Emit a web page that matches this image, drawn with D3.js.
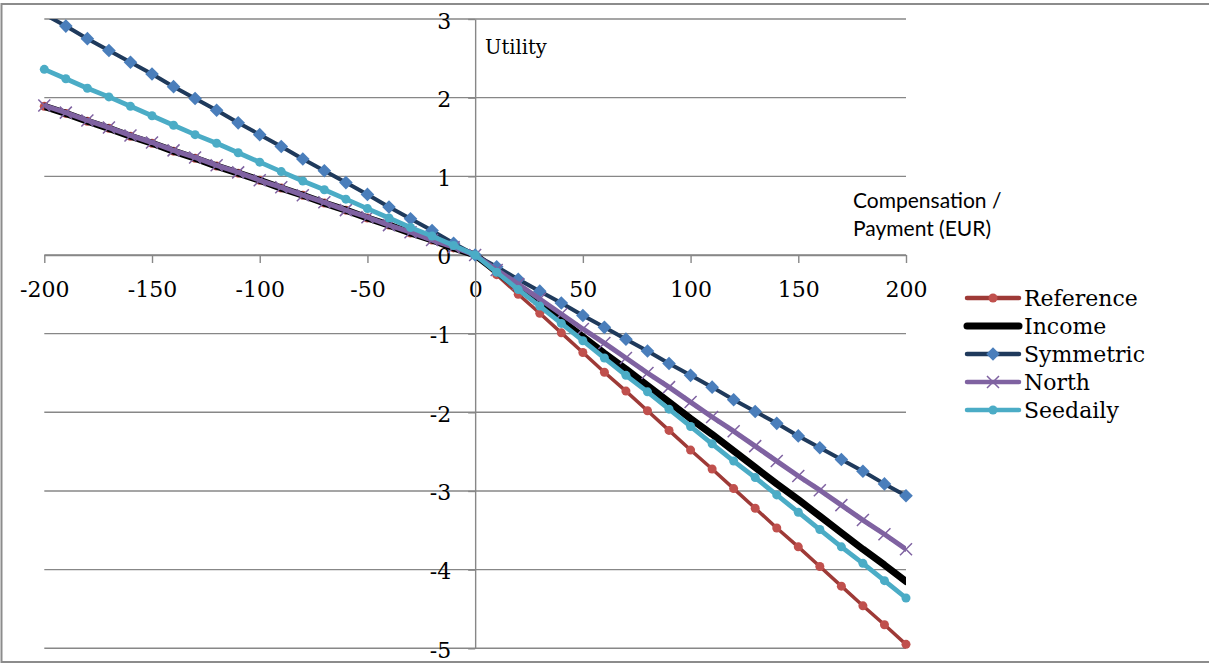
<!DOCTYPE html>
<html>
<head>
<meta charset="utf-8">
<script src="https://cdn.jsdelivr.net/npm/d3@7"></script>
<style>
  html, body { margin: 0; padding: 0; background: #fff; }
  svg { display: block; }
</style>
</head>
<body>
<div id="chart"></div>
<script>
// Compensation / payment amounts (EUR)
const payment = [-200,-190,-180,-170,-160,-150,-140,-130,-120,-110,-100,-90,-80,-70,-60,-50,-40,-30,-20,-10,0,
  10,20,30,40,50,60,70,80,90,100,110,120,130,140,150,160,170,180,190,200];

// Utility per model
const reference = [1.89,1.80,1.70,1.61,1.51,1.42,1.32,1.23,1.13,1.04,0.95,0.85,0.76,0.66,0.57,0.47,0.38,0.28,0.19,0.09,0,
  -0.25,-0.50,-0.74,-0.99,-1.24,-1.49,-1.73,-1.98,-2.23,-2.48,-2.72,-2.97,-3.22,-3.47,-3.71,-3.96,-4.21,-4.46,-4.70,-4.95];
const income = [1.89,1.80,1.70,1.61,1.51,1.42,1.32,1.23,1.13,1.04,0.95,0.85,0.76,0.66,0.57,0.47,0.38,0.28,0.19,0.09,0,
  -0.21,-0.42,-0.62,-0.83,-1.04,-1.25,-1.45,-1.66,-1.87,-2.08,-2.28,-2.49,-2.70,-2.91,-3.11,-3.32,-3.53,-3.74,-3.94,-4.15];
const symmetric = [3.06,2.91,2.75,2.60,2.45,2.30,2.14,1.99,1.84,1.68,1.53,1.38,1.22,1.07,0.92,0.77,0.61,0.46,0.31,0.15,0,
  -0.15,-0.31,-0.46,-0.61,-0.77,-0.92,-1.07,-1.22,-1.38,-1.53,-1.68,-1.84,-1.99,-2.14,-2.30,-2.45,-2.60,-2.75,-2.91,-3.06];
const north = [1.90,1.81,1.71,1.62,1.52,1.43,1.33,1.24,1.14,1.05,0.95,0.86,0.76,0.67,0.57,0.48,0.38,0.29,0.19,0.10,0,
  -0.19,-0.37,-0.56,-0.75,-0.94,-1.12,-1.31,-1.50,-1.68,-1.87,-2.06,-2.24,-2.43,-2.62,-2.81,-2.99,-3.18,-3.37,-3.55,-3.74];
const seedaily = [2.36,2.24,2.12,2.01,1.89,1.77,1.65,1.53,1.42,1.30,1.18,1.06,0.94,0.83,0.71,0.59,0.47,0.35,0.24,0.12,0,
  -0.22,-0.44,-0.65,-0.87,-1.09,-1.31,-1.53,-1.74,-1.96,-2.18,-2.40,-2.62,-2.83,-3.05,-3.27,-3.49,-3.71,-3.92,-4.14,-4.36];

const seriesNames = ["Reference", "Income", "Symmetric", "North", "Seedaily"];
const xTicks = [-200,-150,-100,-50,0,50,100,150,200];
const yTicks = [3,2,1,0,-1,-2,-3,-4,-5];

const W = 1209, H = 664;
const plotLeft = 44.3, plotRight = 906, plotTop = 19, plotBottom = 648.3;
const serif = "'DejaVu Serif', serif";
const gridColor = "#878787";
const plainNumber = d => String(d);   // hyphen-minus, as in the axis labels

const svg = d3.select("#chart").append("svg").attr("width", W).attr("height", H);

const x = d3.scaleLinear().domain([-200, 200]).range([plotLeft, plotRight]);
const y = d3.scaleLinear().domain([-5, 3]).range([plotBottom, plotTop]);

// outer chart border
svg.append("rect").attr("x", 1.5).attr("y", 4).attr("width", W + 10).attr("height", 658)
  .attr("fill", "none").attr("stroke", "#8c8c8c").attr("stroke-width", 2);

// horizontal gridlines
svg.append("g").selectAll("line").data(yTicks).join("line")
  .attr("x1", plotLeft).attr("x2", plotRight)
  .attr("y1", d => y(d)).attr("y2", d => y(d))
  .attr("stroke", gridColor).attr("stroke-width", 1.4);

// x axis through zero
const xAxis = svg.append("g").attr("transform", `translate(0,${y(0)})`)
  .call(d3.axisBottom(x).tickValues(xTicks).tickSize(8).tickSizeOuter(0).tickFormat(plainNumber));
xAxis.select(".domain").attr("stroke", gridColor).attr("stroke-width", 1.4);
xAxis.selectAll(".tick line").attr("stroke", gridColor).attr("stroke-width", 1.4);
xAxis.selectAll(".tick text").attr("y", 42).attr("dy", 0)
  .attr("font-family", serif).attr("font-size", 22).attr("fill", "#000");

// y axis through zero
const yAxis = svg.append("g").attr("transform", `translate(${x(0)},0)`)
  .call(d3.axisLeft(y).tickValues(yTicks).tickSize(7).tickSizeOuter(0).tickFormat(plainNumber));
yAxis.select(".domain").attr("stroke", gridColor).attr("stroke-width", 1.4);
yAxis.selectAll(".tick line").attr("stroke", gridColor).attr("stroke-width", 1.4);
yAxis.selectAll(".tick text").attr("x", -24).attr("dy", 0).attr("y", 9)
  .attr("font-family", serif).attr("font-size", 22).attr("fill", "#000");

// axis titles
svg.append("text").attr("x", 485).attr("y", 54).text("Utility")
  .attr("font-family", serif).attr("font-size", 19.5).attr("fill", "#000");
const xt = svg.append("text").attr("font-family", "Lato, 'Open Sans', sans-serif")
  .attr("font-size", 21).attr("fill", "#000");
xt.append("tspan").attr("x", 853).attr("y", 208).text("Compensation /");
xt.append("tspan").attr("x", 853).attr("y", 236).text("Payment (EUR)");

// plot clip
svg.append("clipPath").attr("id", "plotClip").append("rect")
  .attr("x", plotLeft).attr("y", plotTop).attr("width", plotRight - plotLeft).attr("height", plotBottom - plotTop);

const styles = {
  Reference: { values: reference, line: "#9e3a37", marker: "circle", mColor: "#c0504d", width: 3.5, size: 4.5 },
  Income:    { values: income,    line: "#000000", marker: null,     mColor: null,      width: 7,   size: 0 },
  Symmetric: { values: symmetric, line: "#1f3a5c", marker: "diamond",mColor: "#4a7ebb", width: 4,   size: 6.8 },
  North:     { values: north,     line: "#7f62a1", marker: "x",      mColor: "#7f62a1", width: 5,   size: 6 },
  Seedaily:  { values: seedaily,  line: "#4bacc6", marker: "circle", mColor: "#4bacc6", width: 4.8, size: 4.5 }
};

const line = d3.line().x(d => x(d[0])).y(d => y(d[1]));

function drawMarker(g, type, cx, cy, s, color) {
  if (type === "circle") {
    g.append("circle").attr("cx", cx).attr("cy", cy).attr("r", s).attr("fill", color);
  } else if (type === "diamond") {
    g.append("path").attr("d", `M${cx},${cy - s}L${cx + s},${cy}L${cx},${cy + s}L${cx - s},${cy}Z`)
      .attr("fill", color);
  } else if (type === "x") {
    g.append("path").attr("d", `M${cx - s},${cy - s}L${cx + s},${cy + s}M${cx - s},${cy + s}L${cx + s},${cy - s}`)
      .attr("stroke", color).attr("stroke-width", 1.5).attr("fill", "none");
  }
}

seriesNames.forEach(name => {
  const st = styles[name];
  const pts = payment.map((p, i) => [p, st.values[i]]);
  svg.append("path").datum(pts).attr("d", line).attr("clip-path", "url(#plotClip)")
    .attr("fill", "none").attr("stroke", st.line).attr("stroke-width", st.width)
    .attr("stroke-linejoin", "round").attr("stroke-linecap", "round");
  if (st.marker) {
    const mg = svg.append("g");
    pts.filter(d => d[1] <= 3 && d[1] >= -5).forEach(d =>
      drawMarker(mg, st.marker, x(d[0]), y(d[1]), st.size, st.mColor));
  }
});

// legend
const legend = svg.append("g");
seriesNames.forEach((name, i) => {
  const st = styles[name];
  const ly = 298 + i * 28;
  legend.append("line").attr("x1", 967).attr("x2", 1019).attr("y1", ly).attr("y2", ly)
    .attr("stroke", st.line).attr("stroke-width", name === "Income" ? 7 : 4.5).attr("stroke-linecap", "round");
  if (st.marker) drawMarker(legend, st.marker, 993, ly, st.size, st.mColor);
  legend.append("text").attr("x", 1024).attr("y", ly + 8).text(name)
    .attr("font-family", serif).attr("font-size", 22).attr("fill", "#000");
});
</script>
</body>
</html>
